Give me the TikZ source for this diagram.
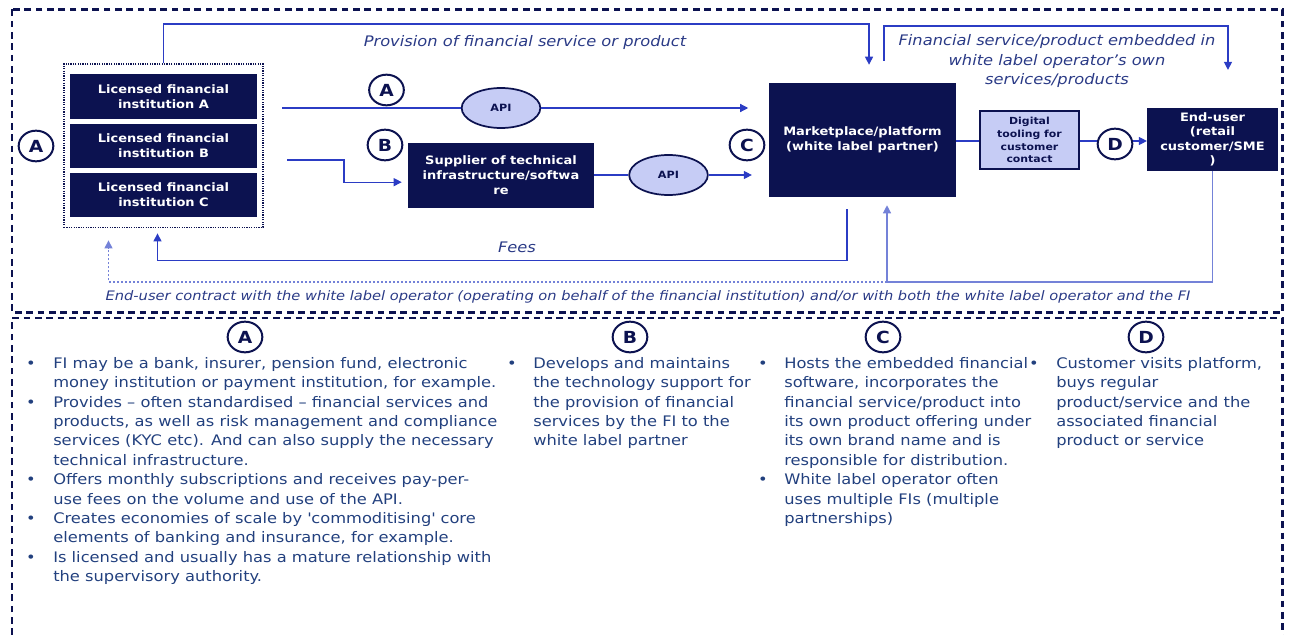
\documentclass[tikz,border=0pt]{standalone}
\usepackage{fontspec}
\setmainfont{DejaVu Sans}[FakeStretch=1.12]
\usetikzlibrary{arrows.meta,fit,shapes.geometric}

\definecolor{navy}{HTML}{0C1250}
\definecolor{flowblue}{HTML}{2B3CC4}
\definecolor{paleflow}{HTML}{7482D8}
\definecolor{lavender}{HTML}{C6CCF5}
\definecolor{textblue}{HTML}{22407E}
\definecolor{labelblue}{HTML}{2A3A86}

\begin{document}
\begin{tikzpicture}[x=0.75pt, y=-0.75pt,
    box/.style={rectangle, fill=navy, text=white, align=center, inner sep=1pt,
        font=\bfseries\fontsize{8.7}{11.2}\selectfont},
    tag/.style={ellipse, draw=navy, line width=1.5pt, fill=white, text=navy, inner sep=0pt,
        minimum width=26pt, minimum height=23pt, font=\bfseries\fontsize{12.5}{12.5}\selectfont},
    api/.style={ellipse, draw=navy, line width=1.3pt, fill=lavender, text=navy,
        minimum width=59pt, minimum height=30pt, font=\bfseries\fontsize{7.5}{8}\selectfont},
    link/.style={draw=flowblue, line width=0.9pt},
    flow/.style={link, -{Triangle[length=6pt,width=6pt]}},
    frame/.style={draw=navy, line width=1.6pt, dash pattern=on 5pt off 3.5pt},
    lbl/.style={text=labelblue, align=center, font=\itshape\fontsize{10.9}{14.3}\selectfont},
    col/.style={text=textblue, align=left, anchor=north west, inner sep=0pt,
        font=\fontsize{10.9}{14.55}\selectfont},
    dot/.style={text=textblue, anchor=base, inner sep=0pt, font=\fontsize{10.9}{14.55}\selectfont}
]
\useasboundingbox (0,0) rectangle (1289,635);

% outer frames
\draw[frame] (12,9.5) rectangle (1282.5,312.5);
\draw[frame] (12,635) -- (12,318) -- (1282.5,318) -- (1282.5,635);

% financial institutions
\node[box, minimum width=140pt, minimum height=33.5pt] (fiA) at (163.5,96.5) {Licensed financial\\institution A};
\node[box, minimum width=140pt, minimum height=33.5pt] (fiB) at (163.5,146) {Licensed financial\\institution B};
\node[box, minimum width=140pt, minimum height=33.5pt] (fiC) at (163.5,195) {Licensed financial\\institution C};
\node[fit=(fiA)(fiC), draw=navy, line width=1.2pt, dash pattern=on 0.9pt off 0.9pt,
    inner xsep=4.5pt, inner ysep=7.5pt] (fis) {};

% other parties
\node[box, minimum width=139.5pt, minimum height=48.75pt] (supplier) at (501,175.5) {Supplier of technical\\infrastructure/softwa\\re};
\node[box, minimum width=140pt, minimum height=85.5pt] (market) at (862.5,140) {Marketplace/platform\\(white label partner)};
\node[rectangle, draw=navy, line width=1.5pt, fill=lavender, text=navy, align=center,
    minimum width=74pt, minimum height=43.5pt, inner sep=1pt,
    font=\bfseries\fontsize{7.3}{9.6}\selectfont] (tooling) at (1029.5,140) {Digital\\tooling for\\customer\\contact};
\node[box, minimum width=98pt, minimum height=47pt, font=\bfseries\fontsize{8.7}{10.8}\selectfont] (user) at (1212.5,139.5) {End-user\\(retail\\customer/SME\\)};

\node[api] (apiA) at (501,108) {API};
\node[api] (apiB) at (668.5,175) {API};

\node[tag] (tagL) at (36,146) {A};
\node[tag] (tagA) at (386.5,90) {A};
\node[tag] (tagB) at (385,145) {B};
\node[tag] (tagC) at (747,145) {C};
\node[tag] (tagD) at (1115,144) {D};

% free ends
\coordinate (aOut) at (282,108);
\coordinate (bOut) at (287,160);
\coordinate (embed) at (884,61);
\coordinate (turn) at (887,282);

% connectors
\draw[link] (aOut) -- (apiA);
\draw[flow, shorten >=15.5pt] (apiA) -- (apiA -| market.west);
\draw[flow, shorten >=4.5pt] (bOut) -- ++(57,0) |- ([yshift=-5pt]supplier.west);
\draw[link] (supplier.east |- apiB) -- (apiB);
\draw[flow, shorten >=12.75pt] (apiB) -- (apiB -| market.west);
\draw[link] (market.east |- 0,141) -- (tooling.west |- 0,141);
\draw[link] (tooling.east |- 0,141) -- (tagD.west |- 0,141);
\draw[flow] (tagD.east |- 0,141) -- (user.west |- 0,141);

\draw[flow, shorten >=13.5pt] (fis.north) -- ++(0,-39) -| ([xshift=4.9pt]market.north);
\draw[flow, shorten >=28.5pt] (embed) -- ++(0,-35) -| ([xshift=11.6pt]user.north);
\draw[flow, shorten <=9pt, shorten >=3.75pt] ([xshift=-11.6pt]market.south) -- ++(0,63) -| ([xshift=-4.5pt]fis.south);
\draw[link, draw=paleflow, -{Triangle[length=6pt,width=6pt]}, shorten >=6pt]
    (user.south) |- (turn) -- (turn |- market.south);
\draw[link, draw=paleflow, dash pattern=on 1.5pt off 1.5pt, -{Triangle[length=6pt,width=6pt]}, shorten >=9pt]
    (turn) -| ([xshift=-41.25pt]fis.south);

% labels on the arrows
\node[lbl] (provision) at (525,42) {Provision of financial service or product};
\node[lbl] (embedded) at (1057,61) {Financial service/product embedded in\\white label operator's own\\services/products};
\node[lbl] (fees) at (517,247) {Fees};
\node[lbl, font=\itshape\fontsize{9.8}{12}\selectfont] (contract) at (648,297) {End-user contract with the white label operator (operating on behalf of the financial institution) and/or with both the white label operator and the FI};

% roles
\node[tag] (keyA) at (245,337) {A};
\node[tag] (keyB) at (630,337) {B};
\node[tag] (keyC) at (883,337) {C};
\node[tag] (keyD) at (1146,337) {D};

\node[col] (colA) at (53,357) {FI may be a bank, insurer, pension fund, electronic\\
money institution or payment institution, for example.\\
Provides -- often standardised -- financial services and\\
products, as well as risk management and compliance\\
services (KYC etc). And can also supply the necessary\\
technical infrastructure.\\
Offers monthly subscriptions and receives pay-per-\\
use fees on the volume and use of the API.\\
Creates economies of scale by \textquotesingle commoditising\textquotesingle{} core\\
elements of banking and insurance, for example.\\
Is licensed and usually has a mature relationship with\\
the supervisory authority.};
\foreach \i in {0,2,6,8,10}
    \node[dot] (dotA\i) at (31,{368.5+\i*19.4}) {\textbullet};

\node[col] (colB) at (533,357) {Develops and maintains\\
the technology support for\\
the provision of financial\\
services by the FI to the\\
white label partner};
\node[dot] (dotB) at (512,368.5) {\textbullet};

\node[col] (colC) at (784,357) {Hosts the embedded financial\\
software, incorporates the\\
financial service/product into\\
its own product offering under\\
its own brand name and is\\
responsible for distribution.\\
White label operator often\\
uses multiple FIs (multiple\\
partnerships)};
\foreach \i in {0,6}
    \node[dot] (dotC\i) at (763,{368.5+\i*19.4}) {\textbullet};

\node[col] (colD) at (1056,357) {Customer visits platform,\\
buys regular\\
product/service and the\\
associated financial\\
product or service};
\node[dot] (dotD) at (1034,368.5) {\textbullet};
\end{tikzpicture}
\end{document}
